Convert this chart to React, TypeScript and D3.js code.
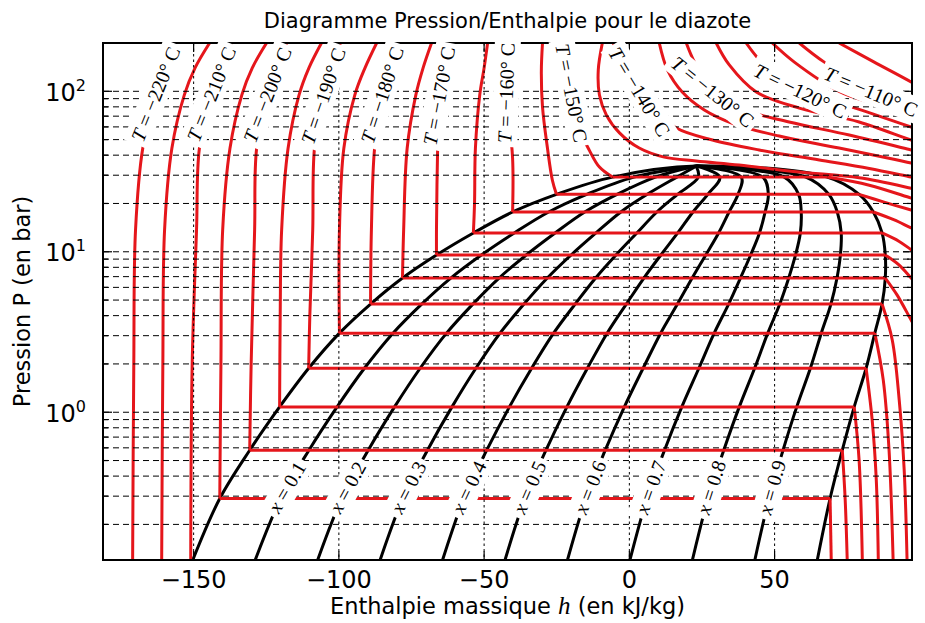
import React, { useEffect, useRef } from 'react';
import * as d3 from 'd3';

type Pt = [number, number];

// axes
const hDomain: Pt = [-181.2, 97.3];
const pDomain: Pt = [0.12, 200];
const hTicks = [-150, -100, -50, 0, 50];
const pMajor = [1, 10, 100];

// saturation table: bottom edge, -205 ... -150 °C, critical point
const satT = [null, -205, -200, -195, -190, -185, -180, -175, -170, -165, -160, -155, -150, null];
const satP = [0.12, 0.29, 0.58, 1.08, 1.88, 3.11, 4.72, 6.86, 9.55, 13.1, 17.7, 22.8, 29.2, 34.2];
const satHL = [-150.3, -141, -130.7, -120.4, -110.4, -99.8, -89.1, -78.1, -66.4, -53.7, -40.2, -25.1, -5.8, 23];
const satHV = [64.7, 69.1, 73.3, 77.4, 81.5, 84.5, 87, 88.1, 88.1, 87, 84, 79.1, 68.1, 23];

const qualities = [0.1, 0.2, 0.3, 0.4, 0.5, 0.6, 0.7, 0.8, 0.9];
const qualityLabelP = 0.34;

// liquid branches (above saturation), [h kJ/kg, P bar]
const liq220: Pt[] = [[-171, 0.12], [-170.6, 2], [-170, 13.7], [-167.5, 44.3], [-163, 96], [-157.5, 200]];
const liq215: Pt[] = [[-161, 0.12], [-160.6, 2], [-160, 13.7], [-157.5, 44], [-153.2, 95], [-149.5, 140], [-144.5, 200]];
const liq210: Pt[] = [[-151, 0.12], [-150.5, 2], [-149, 13.7], [-148, 44.3], [-143.8, 96], [-137, 200]];
const liq205: Pt[] = [[-140.6, 2], [-140, 13.7], [-137.5, 44], [-133.4, 95], [-129.8, 140], [-124.9, 200]];
const liq200: Pt[] = [[-130.2, 2], [-129, 13.7], [-128.3, 44.3], [-124.5, 94.8], [-118, 200]];
const liq195: Pt[] = [[-120.2, 4], [-119.7, 13.7], [-117.5, 44], [-113.7, 95], [-110.3, 140], [-106, 200]];
const liq190: Pt[] = [[-110, 4], [-109, 13.7], [-108.4, 44.3], [-105.3, 93.5], [-99.5, 200]];
const liq185: Pt[] = [[-99.8, 13.7], [-98.3, 44], [-94.5, 95], [-91, 140], [-87, 200]];
const liq180: Pt[] = [[-88.8, 13.7], [-87.7, 44.3], [-85, 94.8], [-80, 200]];
const liq175: Pt[] = [[-77.7, 13.7], [-76.5, 44], [-73.5, 95], [-71, 140], [-68.1, 200]];
const liq170: Pt[] = [[-66.4, 13.7], [-66, 44.3], [-65.4, 93.5], [-62, 200]];
const liq165: Pt[] = [[-53.3, 20], [-53, 44], [-51.5, 95], [-50, 140], [-48.8, 200]];
const liq160: Pt[] = [[-40.2, 38.4], [-42.3, 97.6], [-43, 200]];
const liq155: Pt[] = [[-26.5, 27.9], [-28.2, 44.3], [-29.9, 80], [-30.3, 133], [-29.9, 200]];
const liq150: Pt[] = [[-10.3, 33.7], [-13.8, 43], [-17.5, 60], [-20, 97.6], [-22.5, 150], [-23.4, 200]];

// vapour branches (below saturation)
const vap205: Pt[] = [[69.5, 0.12]];
const vap200: Pt[] = [[74.3, 0.285], [75, 0.12]];
const vap195: Pt[] = [[79.1, 0.5], [80.2, 0.12]];
const vap190: Pt[] = [[83.6, 0.89], [85, 0.38], [85.7, 0.12]];
const vap185: Pt[] = [[87.4, 1.59], [89.4, 0.58], [90.8, 0.12]];
const vap180: Pt[] = [[90.5, 2.82], [92.9, 1.19], [94.6, 0.44], [95.6, 0.12]];
const vap175: Pt[] = [[92.2, 5.37], [97, 3.75], [100, 3.0]];
const vap170: Pt[] = [[92.9, 8.26], [97, 6.86], [100, 6.0]];
const vap165: Pt[] = [[92.9, 11.6], [97, 10.3], [100, 9.5]];
const vap160: Pt[] = [[91.2, 15.8], [97, 14.1], [100, 13.4]];
const vap155: Pt[] = [[87.7, 20.4], [97, 18.2], [100, 17.6]];
const vap150: Pt[] = [[82.6, 26.0], [97, 21.6], [100, 20.8]];

// supercritical isotherms
const sup145: Pt[] = [[-9.3, 200], [-10.7, 136], [-10.3, 94.8], [-7.9, 71.1], [-3.4, 55.1], [3.4, 44.3], [12, 38.9], [23, 36.8], [37.8, 34.7], [58.5, 31.4], [79.1, 28.9], [97, 24.9], [100, 24.2]];
const sup140: Pt[] = [[-5.5, 200], [-2.8, 146], [3.4, 99], [10.3, 74.2], [16.2, 59], [28.6, 49.7], [44.7, 43.1], [65.4, 37.3], [82.6, 33.0], [97, 29.2], [100, 28.5]];
const sup135: Pt[] = [[10.3, 200], [13.1, 136], [18.2, 99], [25.8, 76.5], [36.1, 62.5], [51.6, 52.6], [72.2, 44.3], [97, 35.7], [100, 34.6]];
const sup130: Pt[] = [[19.6, 200], [22.4, 152], [28.6, 99], [39.6, 76.5], [55, 64.4], [75.7, 53.4], [97, 43.1], [100, 41.8]];
const sup125: Pt[] = [[29.9, 200], [34.4, 146], [43.7, 99], [58.5, 78.6], [79.1, 64.4], [97, 49.7], [100, 48]];
const sup120: Pt[] = [[40.2, 200], [46.4, 146], [58.8, 100], [75.7, 80.9], [97, 59.9], [100, 57.5]];
const sup115: Pt[] = [[49.2, 200], [56.8, 152], [72.2, 100], [84.3, 83.3], [97, 69.1], [100, 66.5]];
const sup110: Pt[] = [[58.5, 200], [67.1, 152], [85.3, 97.6], [97, 80.9], [100, 77]];
const sup105: Pt[] = [[72.2, 200], [84.3, 152], [97, 114.3], [100, 106]];

// isotherm labels
const tLabelT = [-220, -210, -200, -190, -180, -170, -160, -150, -140, -130, -120, -110];
const tLabelH = [-163, -143.8, -124.5, -105.3, -85, -65.4, -42.3, -20, 3.4, 28.6, 58.8, 83.2];
const tLabelP = [96, 96, 94.8, 93.5, 94.8, 93.5, 97.6, 97.6, 99, 99, 100, 99];
const tLabelAngle = [-68, -68, -68.5, -71, -72, -79, -88, 79, 59, 39, 26, 23];

const isotherms: { T: number; liq?: Pt[]; vap?: Pt[]; sup?: Pt[] }[] = [
  { T: -220, liq: liq220 },
  { T: -215, liq: liq215 },
  { T: -210, liq: liq210 },
  { T: -205, liq: liq205, vap: vap205 },
  { T: -200, liq: liq200, vap: vap200 },
  { T: -195, liq: liq195, vap: vap195 },
  { T: -190, liq: liq190, vap: vap190 },
  { T: -185, liq: liq185, vap: vap185 },
  { T: -180, liq: liq180, vap: vap180 },
  { T: -175, liq: liq175, vap: vap175 },
  { T: -170, liq: liq170, vap: vap170 },
  { T: -165, liq: liq165, vap: vap165 },
  { T: -160, liq: liq160, vap: vap160 },
  { T: -155, liq: liq155, vap: vap155 },
  { T: -150, liq: liq150, vap: vap150 },
  { T: -145, sup: sup145 },
  { T: -140, sup: sup140 },
  { T: -135, sup: sup135 },
  { T: -130, sup: sup130 },
  { T: -125, sup: sup125 },
  { T: -120, sup: sup120 },
  { T: -115, sup: sup115 },
  { T: -110, sup: sup110 },
  { T: -105, sup: sup105 },
];

const W = 925;
const H = 623;
const frame = { left: 103, right: 912, top: 43, bottom: 560 };
const RED = '#e5161b';

const App: React.FC = () => {
  const svgRef = useRef<SVGSVGElement | null>(null);

  useEffect(() => {
    if (!svgRef.current) return;
    const svg = d3.select(svgRef.current);
    svg.selectAll('*').remove();

    const x = d3.scaleLinear().domain(hDomain).range([frame.left, frame.right]);
    const y = d3.scaleLog().domain(pDomain).range([frame.bottom, frame.top]);
    const smooth = d3.line<Pt>().x(d => x(d[0])).y(d => y(d[1])).curve(d3.curveCatmullRom.alpha(0.5));
    const straight = d3.line<Pt>().x(d => x(d[0])).y(d => y(d[1]));

    svg.append('defs').append('clipPath').attr('id', 'plot-clip')
      .append('rect')
      .attr('x', frame.left).attr('y', frame.top)
      .attr('width', frame.right - frame.left).attr('height', frame.bottom - frame.top);

    const curves = svg.append('g').attr('clip-path', 'url(#plot-clip)').attr('fill', 'none')
      .attr('stroke-linejoin', 'round');

    // saturation dome
    const n = satP.length;
    const dome: Pt[] = [
      ...satP.map((p, i) => [satHL[i], p] as Pt),
      ...satP.slice(0, n - 1).map((p, i) => [satHV[i], p] as Pt).reverse(),
    ];
    curves.append('path').attr('d', smooth(dome)).attr('stroke', '#000').attr('stroke-width', 3);

    // iso-quality lines
    qualities.forEach(q => {
      const pts = satP.map((p, i) => [satHL[i] + q * (satHV[i] - satHL[i]), p] as Pt);
      curves.append('path').attr('d', smooth(pts)).attr('stroke', '#000').attr('stroke-width', 3);
    });

    // isotherms
    isotherms.forEach(iso => {
      const row = satT.indexOf(iso.T);
      const draw = (pts: Pt[]) =>
        curves.append('path').attr('d', smooth(pts)).attr('stroke', RED).attr('stroke-width', 3);
      if (iso.sup) {
        draw(iso.sup);
        return;
      }
      if (row >= 0) {
        const ps = satP[row];
        draw([[satHL[row], ps], ...(iso.liq || [])]);
        curves.append('path').attr('d', straight([[satHL[row], ps], [satHV[row], ps]]))
          .attr('stroke', RED).attr('stroke-width', 3);
        draw([[satHV[row], ps], ...(iso.vap || [])]);
      } else if (iso.liq) {
        draw(iso.liq);
      }
    });

    // grid (drawn above the curves, as in the original)
    const grid = svg.append('g').attr('stroke', '#000').attr('stroke-width', 1);
    y.ticks().forEach(v => {
      grid.append('line')
        .attr('x1', frame.left).attr('x2', frame.right)
        .attr('y1', y(v)).attr('y2', y(v))
        .attr('stroke-dasharray', '6,4');
    });
    hTicks.forEach(v => {
      grid.append('line')
        .attr('x1', x(v)).attr('x2', x(v))
        .attr('y1', frame.top).attr('y2', frame.bottom)
        .attr('stroke-dasharray', '2.5,3');
    });

    // ticks
    const ticks = svg.append('g').attr('stroke', '#000').attr('stroke-width', 1.2);
    y.ticks().forEach(v => {
      const len = pMajor.includes(v) ? 9 : 5;
      ticks.append('line').attr('x1', frame.left).attr('x2', frame.left + len).attr('y1', y(v)).attr('y2', y(v));
      ticks.append('line').attr('x1', frame.right).attr('x2', frame.right - len).attr('y1', y(v)).attr('y2', y(v));
    });
    hTicks.forEach(v => {
      ticks.append('line').attr('x1', x(v)).attr('x2', x(v)).attr('y1', frame.bottom).attr('y2', frame.bottom - 9);
      ticks.append('line').attr('x1', x(v)).attr('x2', x(v)).attr('y1', frame.top).attr('y2', frame.top + 9);
    });

    // frame
    svg.append('rect')
      .attr('x', frame.left).attr('y', frame.top)
      .attr('width', frame.right - frame.left).attr('height', frame.bottom - frame.top)
      .attr('fill', 'none').attr('stroke', '#000').attr('stroke-width', 2);

    // tick labels
    const sans = 'DejaVu Sans, sans-serif';
    hTicks.forEach(v => {
      svg.append('text')
        .attr('x', x(v)).attr('y', 588)
        .attr('text-anchor', 'middle')
        .attr('font-family', sans).attr('font-size', 24)
        .text(v < 0 ? `\u2212${Math.abs(v)}` : `${v}`);
    });
    pMajor.forEach(v => {
      const t = svg.append('text')
        .attr('x', 86).attr('y', y(v) + 9.5)
        .attr('text-anchor', 'end')
        .attr('font-family', sans).attr('font-size', 24);
      t.append('tspan').text('10');
      t.append('tspan').attr('font-size', 16).attr('dy', -10).text(`${Math.round(Math.log10(v))}`);
    });

    // axis titles
    svg.append('text')
      .attr('transform', `translate(30,${(frame.top + frame.bottom) / 2}) rotate(-90)`)
      .attr('text-anchor', 'middle')
      .attr('font-family', sans).attr('font-size', 22.5)
      .text('Pression P (en bar)');
    const xl = svg.append('text')
      .attr('x', (frame.left + frame.right) / 2).attr('y', 614)
      .attr('text-anchor', 'middle')
      .attr('font-family', sans).attr('font-size', 22.5);
    xl.append('tspan').text('Enthalpie massique ');
    xl.append('tspan').attr('font-family', 'Liberation Serif, serif').attr('font-style', 'italic').attr('font-size', 25).text('h');
    xl.append('tspan').text(' (en kJ/kg)');
    svg.append('text')
      .attr('x', (frame.left + frame.right) / 2).attr('y', 28)
      .attr('text-anchor', 'middle')
      .attr('font-family', sans).attr('font-size', 21)
      .text('Diagramme Pression/Enthalpie pour le diazote');

    // inline labels with white boxes
    const labels = svg.append('g');
    const serif = 'Liberation Serif, serif';
    const addLabel = (cx: number, cy: number, angle: number, build: (t: d3.Selection<SVGTextElement, unknown, null, undefined>) => void) => {
      const g = labels.append('g').attr('transform', `translate(${cx},${cy}) rotate(${angle})`);
      const rect = g.append('rect').attr('fill', '#fff');
      const t = g.append('text')
        .attr('text-anchor', 'middle').attr('dy', '0.33em')
        .attr('font-family', serif).attr('font-size', 20);
      build(t);
      const bb = (t.node() as SVGTextElement).getBBox();
      const pad = 4;
      rect.attr('x', bb.x - pad).attr('y', bb.y - pad + 2)
        .attr('width', bb.width + 2 * pad).attr('height', bb.height + 2 * pad - 4);
    };

    tLabelT.forEach((T, i) => {
      addLabel(x(tLabelH[i]), y(tLabelP[i]), tLabelAngle[i], t => {
        t.append('tspan').attr('font-style', 'italic').text('T');
        t.append('tspan').text(` = \u2212${Math.abs(T)}\u00b0 C`);
      });
    });

    qualities.forEach(q => {
      const i = satP.findIndex((p, k) => k < n - 1 && p <= qualityLabelP && satP[k + 1] >= qualityLabelP);
      const hq = (k: number) => satHL[k] + q * (satHV[k] - satHL[k]);
      const x0 = x(hq(i)), y0 = y(satP[i]);
      const x1 = x(hq(i + 1)), y1 = y(satP[i + 1]);
      const t = (y(qualityLabelP) - y0) / (y1 - y0);
      const cx = x0 + t * (x1 - x0);
      const cy = y0 + t * (y1 - y0);
      const angle = (Math.atan2(y1 - y0, x1 - x0) * 180) / Math.PI;
      addLabel(cx, cy, angle, tt => {
        tt.append('tspan').attr('font-style', 'italic').text('x');
        tt.append('tspan').text(` = ${q.toFixed(1)}`);
      });
    });
  }, []);

  return (
    <svg
      ref={svgRef}
      width={W}
      height={H}
      style={{ position: 'absolute', left: 0, top: 0, background: '#fff' }}
    />
  );
};

export default App;
